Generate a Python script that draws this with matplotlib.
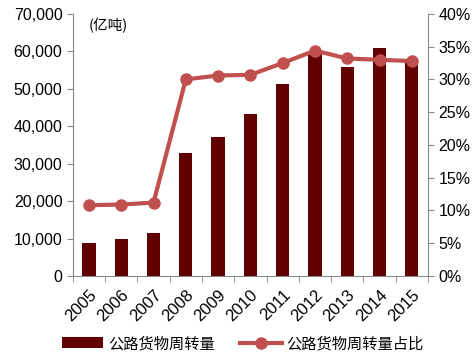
import matplotlib.pyplot as plt
from matplotlib.ticker import FuncFormatter, FixedLocator

plt.rcParams["font.family"] = ["Liberation Sans", "Noto Sans CJK SC", "DejaVu Sans"]

years = ["2005", "2006", "2007", "2008", "2009", "2010",
         "2011", "2012", "2013", "2014", "2015"]
# 公路货物周转量（亿吨公里）
turnover = [8693, 9754, 11355, 32868, 37189, 43390,
            51375, 59535, 55738, 61017, 57956]
# 公路货物周转量占比（%）
share = [10.8, 10.9, 11.2, 30.0, 30.6, 30.7, 32.5, 34.4, 33.2, 33.0, 32.8]

bar_color = "#600000"
line_color = "#C0504D"
spine_color = "#888888"

fig = plt.figure(figsize=(4.76, 3.57), dpi=100)
ax = fig.add_axes([0.153, 0.227, 0.746, 0.734])
x = list(range(len(years)))

bars = ax.bar(x, turnover, width=0.41, color=bar_color, label="公路货物周转量", zorder=2)
ax.set_xlim(-0.5, len(years) - 0.5)
ax.set_ylim(0, 70000)
ax.set_yticks(range(0, 70001, 10000))
ax.yaxis.set_major_formatter(FuncFormatter(lambda v, p: f"{int(v):,}"))
ax.set_xticks(x)
ax.set_xticklabels(years, rotation=45, ha="right", rotation_mode="anchor")
ax.xaxis.set_minor_locator(FixedLocator([i - 0.5 for i in range(len(years) + 1)]))
ax.tick_params(axis="x", which="major", length=0, labelsize=12, pad=8)
ax.tick_params(axis="x", which="minor", length=4, color=spine_color)
ax.tick_params(axis="y", length=4, color=spine_color, labelsize=11.5)

ax2 = ax.twinx()
line, = ax2.plot(x, share, color=line_color, linewidth=3, marker="o",
                 markersize=8, label="公路货物周转量占比", zorder=3)
ax2.set_ylim(0, 40)
ax2.set_yticks(range(0, 41, 5))
ax2.yaxis.set_major_formatter(FuncFormatter(lambda v, p: f"{int(v)}%"))
ax2.tick_params(axis="y", length=4, color=spine_color, labelsize=11.5)

for a in (ax, ax2):
    a.spines["top"].set_visible(False)
    for s in ("left", "right", "bottom"):
        a.spines[s].set_color(spine_color)
ax.spines["right"].set_visible(False)
ax2.spines["left"].set_visible(False)
ax2.spines["bottom"].set_visible(False)

ax.text(0.045, 0.985, "(亿吨)", transform=ax.transAxes, fontsize=10.5,
        va="top", ha="left", family=["Noto Sans CJK SC", "DejaVu Sans"])

fig.legend([bars, line], ["公路货物周转量", "公路货物周转量占比"],
           loc="lower center", bbox_to_anchor=(0.51, -0.025), ncol=2, frameon=False,
           prop={"family": ["Noto Sans CJK SC", "DejaVu Sans"], "size": 11},
           handlelength=2.7, columnspacing=1.7, handletextpad=0.3)

fig.savefig("out.png", dpi=100)
